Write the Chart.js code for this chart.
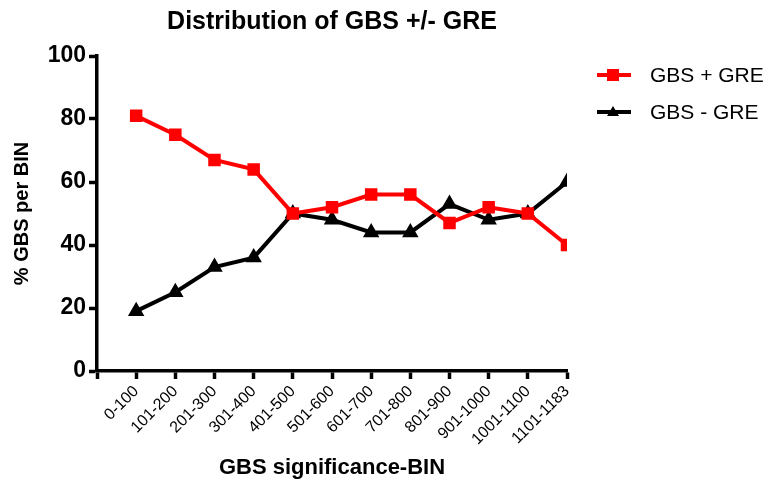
<!DOCTYPE html>
<html>
<head>
<meta charset="utf-8">
<script src="https://cdn.jsdelivr.net/npm/chart.js@4/dist/chart.umd.min.js"></script>
<style>
  html, body { margin: 0; padding: 0; background: #fff; }
  #wrap { width: 769px; height: 485px; }
</style>
</head>
<body>
<div id="wrap"><canvas id="gbsChart" width="769" height="485"></canvas></div>
<script>
const bins = ['0-100', '101-200', '201-300', '301-400', '401-500', '501-600',
  '601-700', '701-800', '801-900', '901-1000', '1001-1100', '1101-1183'];
const withGre = [81, 75, 67, 64, 50, 52, 56, 56, 47, 52, 50, 40];
const withoutGre = [19, 25, 33, 36, 50, 48, 44, 44, 53, 48, 50, 60];
const yTicks = [0, 20, 40, 60, 80, 100];

const FONT = 'Arial, "Liberation Sans", sans-serif';
const toPoints = arr => arr.map((v, i) => ({ x: i, y: v }));

// legend drawn by hand: line with marker, like the original prism style
const sideLegend = {
  id: 'sideLegend',
  afterDraw(chart) {
    const c = chart.ctx;
    const x0 = 597;
    chart.data.datasets.forEach((ds, i) => {
      const y = 75 + i * 37;
      c.save();
      c.strokeStyle = ds.borderColor;
      c.lineWidth = 4;
      c.beginPath();
      c.moveTo(x0, y);
      c.lineTo(x0 + 34, y);
      c.stroke();
      c.fillStyle = ds.borderColor;
      const mx = x0 + 16;
      if (ds.pointStyle === 'rect') {
        c.fillRect(mx - 6, y - 6, 12, 12);
      } else {
        c.beginPath();
        c.moveTo(mx, y - 6);
        c.lineTo(mx + 6, y + 4);
        c.lineTo(mx - 6, y + 4);
        c.closePath();
        c.fill();
      }
      c.fillStyle = '#000';
      c.font = '21px ' + FONT;
      c.textBaseline = 'middle';
      c.fillText(ds.label, 650, y + 1);
      c.restore();
    });
  }
};

new Chart(document.getElementById('gbsChart'), {
  type: 'line',
  data: {
    datasets: [{
      label: 'GBS + GRE',
      data: toPoints(withGre),
      borderColor: '#ff0000',
      backgroundColor: '#ff0000',
      borderWidth: 4,
      pointStyle: 'rect',
      pointRadius: 6,
      tension: 0
    }, {
      label: 'GBS - GRE',
      data: toPoints(withoutGre),
      borderColor: '#000000',
      backgroundColor: '#000000',
      borderWidth: 4,
      pointStyle: 'triangle',
      pointRadius: 5.5,
      tension: 0
    }]
  },
  options: {
    responsive: false,
    animation: false,
    layout: { padding: { left: 0, right: 202, top: 0, bottom: 0 } },
    plugins: {
      legend: { display: false },
      tooltip: { enabled: false },
      title: {
        display: true,
        fullSize: false,
        text: 'Distribution of GBS +/- GRE',
        color: '#000',
        font: { family: FONT, size: 25, weight: 'bold' },
        padding: { top: 7, bottom: 19 }
      }
    },
    scales: {
      x: {
        type: 'linear',
        min: -1,
        max: bins.length - 1,
        afterFit(scale) { scale.height = 114; },
        afterBuildTicks(scale) {
          scale.ticks = [{ value: -1 }].concat(bins.map((b, i) => ({ value: i })));
        },
        border: { color: '#000', width: 3.5 },
        grid: { drawOnChartArea: false, drawTicks: true, tickLength: 8, tickWidth: 3.5, color: '#000' },
        ticks: {
          autoSkip: false,
          minRotation: 45,
          maxRotation: 45,
          color: '#000',
          padding: 3,
          font: { family: FONT, size: 16 },
          callback: v => bins[v] ?? ''
        },
        title: {
          display: true,
          text: 'GBS significance-BIN',
          color: '#000',
          font: { family: FONT, size: 22, weight: 'bold' },
          padding: { top: 0, bottom: 4 }
        }
      },
      y: {
        min: 0,
        max: 100,
        afterFit(scale) { scale.width = 97; },
        afterBuildTicks(scale) { scale.ticks = yTicks.map(v => ({ value: v })); },
        border: { color: '#000', width: 3.5 },
        grid: { drawOnChartArea: false, drawTicks: true, tickLength: 8, tickWidth: 3.5, color: '#000' },
        ticks: {
          color: '#000',
          padding: 3,
          font: { family: FONT, size: 23, weight: 'bold' }
        },
        title: {
          display: true,
          text: '% GBS per BIN',
          color: '#000',
          font: { family: FONT, size: 20, weight: 'bold' },
          padding: { top: 10, bottom: 0 }
        }
      }
    }
  },
  plugins: [sideLegend]
});
</script>
</body>
</html>
